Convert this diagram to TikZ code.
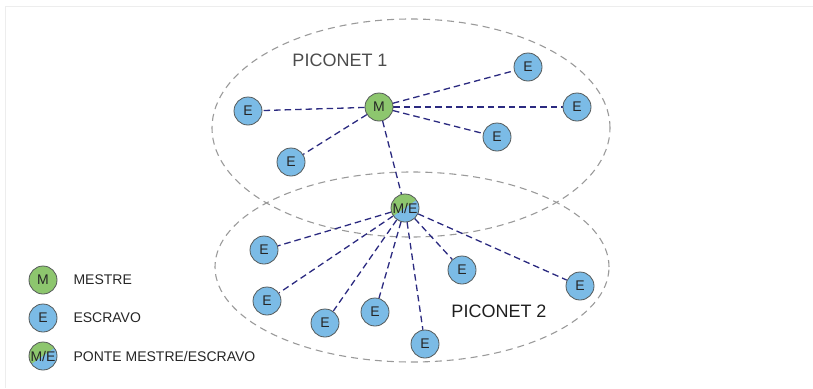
\documentclass[tikz,border=0pt]{standalone}
\usepackage{fontspec}
\setmainfont{Liberation Sans}
\usetikzlibrary{calc,backgrounds}
\definecolor{nblue}{HTML}{7BBBE6}
\definecolor{ngreen}{HTML}{8DC66E}
\definecolor{nline}{HTML}{555A5A}
\definecolor{linkc}{HTML}{2B2A80}
\definecolor{ringc}{HTML}{9A9A9A}
\definecolor{framec}{HTML}{EDEDED}
\tikzset{
  nodebase/.style={circle, minimum size=28pt, inner sep=0pt, draw=nline, line width=0.8pt, font=\fontsize{14}{14}\selectfont, text=black!85},
  slave/.style={nodebase, fill=nblue},
  master/.style={nodebase, fill=ngreen},
  bridge/.style={nodebase, fill=ngreen, path picture={
      \fill[nblue] ($(path picture bounding box.center)+(35:20pt)$) -- ($(path picture bounding box.center)+(-55:28pt)$) -- ($(path picture bounding box.center)+(215:20pt)$) -- cycle;}},
  link/.style={draw=linkc, line width=1.3pt, dash pattern=on 6.5pt off 4pt},
  ring/.style={draw=ringc, line width=1.1pt, dash pattern=on 7pt off 5pt},
  legtext/.style={anchor=west, font=\fontsize{14}{14}\selectfont, text=black!85},
}
\begin{document}
\begin{tikzpicture}[x=1pt,y=-1pt]
\useasboundingbox (0,0) rectangle (813,388);
\draw[framec, line width=0.8pt] (5,388) -- (5,6) -- (813,6);
% piconet 1
\node[master] (M) at (379,107) {M};
\node[slave] (a1) at (248,111) {E};
\node[slave] (a2) at (291,162) {E};
\node[slave] (a3) at (528,67) {E};
\node[slave] (a4) at (577,107) {E};
\node[slave] (a5) at (497,137) {E};
% bridge
\node[bridge] (B) at (405,208) {M/E};
% piconet 2
\node[slave] (b1) at (264,250) {E};
\node[slave] (b2) at (267,301) {E};
\node[slave] (b3) at (325,323) {E};
\node[slave] (b4) at (375,312) {E};
\node[slave] (b5) at (425,344) {E};
\node[slave] (b6) at (462,270) {E};
\node[slave] (b7) at (580,286) {E};
% labels
\node[font=\fontsize{18}{18}\selectfont, text=black!70] (p1) at (340,60) {PICONET 1};
\node[font=\fontsize{18}{18}\selectfont, text=black!88] (p2) at (499,311) {PICONET 2};
% legend
\node[master] (lm) at (43,280) {M};
\node[slave] (le) at (43,318) {E};
\node[bridge] (lb) at (43,356) {M/E};
\node[legtext] (tm) at (70,280) {MESTRE};
\node[legtext] (te) at (70,318) {ESCRAVO};
\node[legtext] (tb) at (70,356) {PONTE MESTRE/ESCRAVO};
\begin{pgfonlayer}{background}
\draw[ring] (411,128) ellipse [x radius=199pt, y radius=109pt];
\draw[ring] (412,267) ellipse [x radius=197pt, y radius=95pt];
\foreach \t in {a1,a2,a3,a4,a5,B} \draw[link] (M) -- (\t);
\foreach \t in {b1,b2,b3,b4,b5,b6,b7} \draw[link] (B) -- (\t);
\end{pgfonlayer}
\end{tikzpicture}
\end{document}
